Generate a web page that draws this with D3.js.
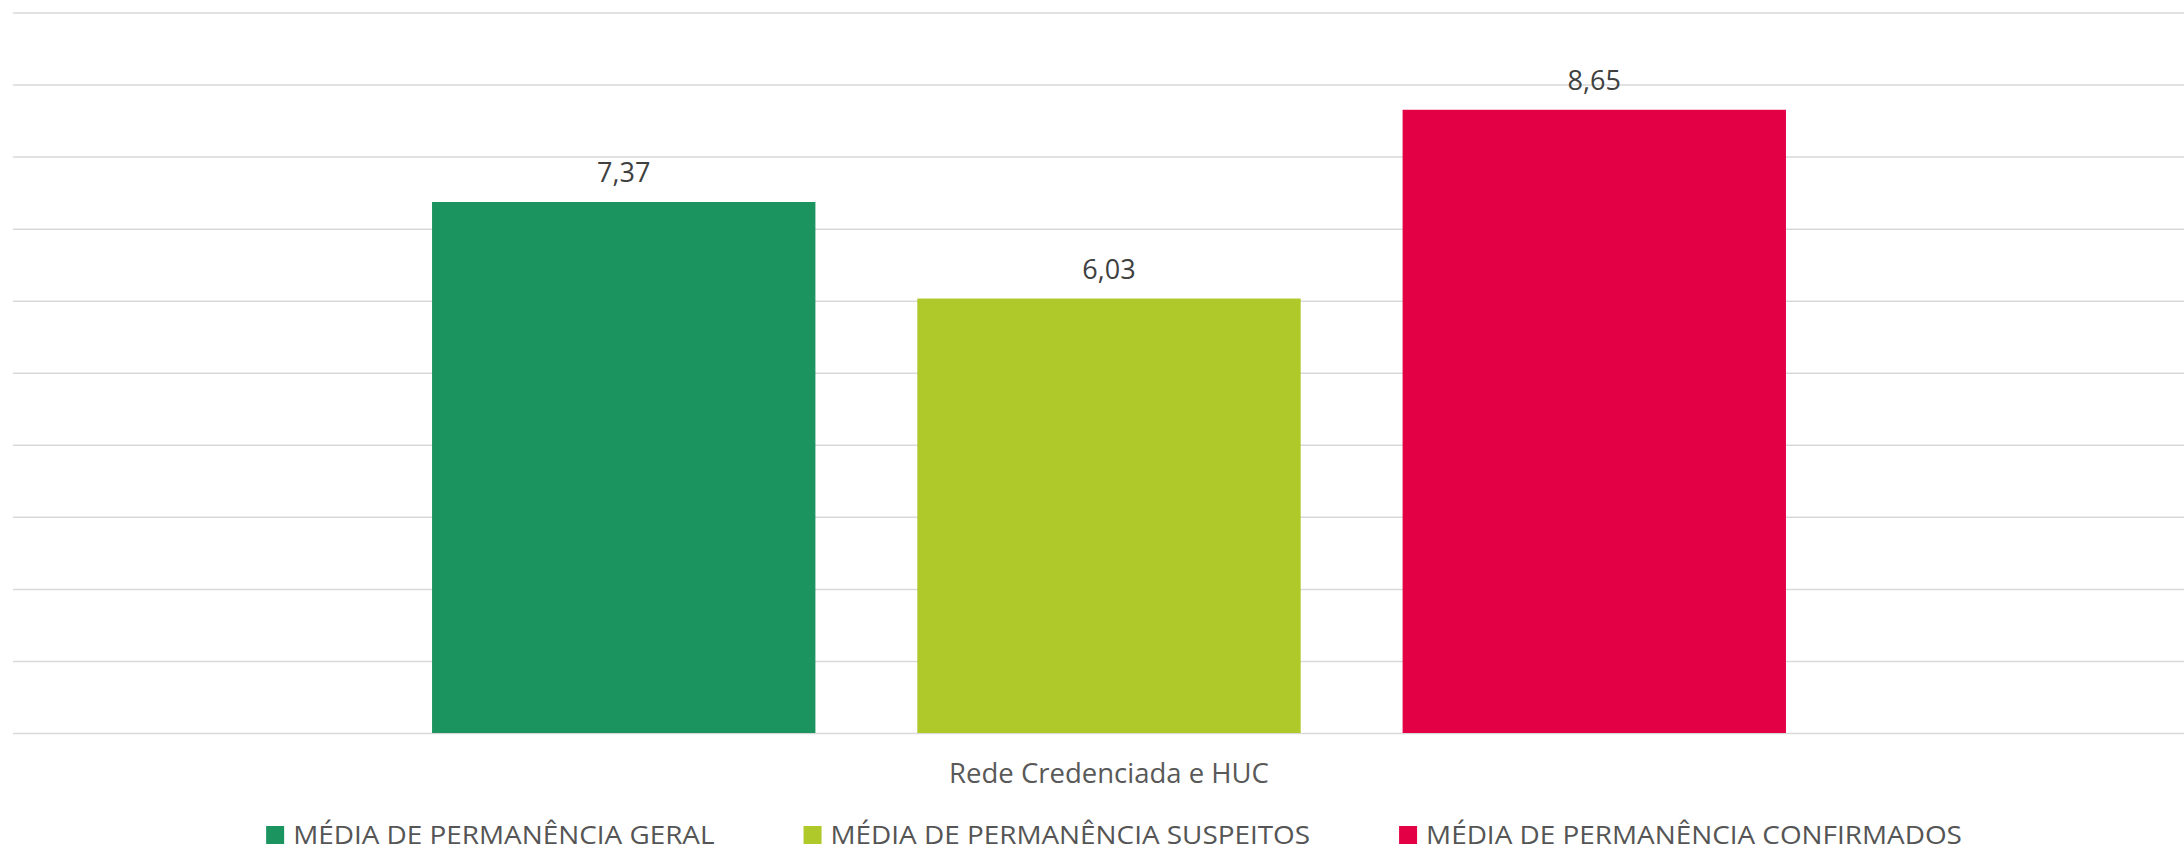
<!DOCTYPE html>
<html>
<head>
<meta charset="utf-8">
<script src="https://cdn.jsdelivr.net/npm/d3@7"></script>
<style>
  html, body { margin: 0; padding: 0; background: #fff; }
  svg { display: block; font-family: "Open Sans", sans-serif; }
</style>
</head>
<body>
<div id="chart"></div>
<script>
// data
const categories = ["Rede Credenciada e HUC"];
const seriesNames = ["MÉDIA DE PERMANÊNCIA GERAL", "MÉDIA DE PERMANÊNCIA SUSPEITOS", "MÉDIA DE PERMANÊNCIA CONFIRMADOS"];
const seriesValues = [7.37, 6.03, 8.65];
const seriesColors = ["#1C9460", "#AFC82A", "#E30045"];
const yTicks = [0, 1, 2, 3, 4, 5, 6, 7, 8, 9, 10];

const width = 2184, height = 852;
const margin = { top: 12.5, right: -21, bottom: 119, left: 13 };

const svg = d3.select("#chart").append("svg")
  .attr("width", width)
  .attr("height", height);

// scales
const x0 = d3.scaleBand()
  .domain(categories)
  .range([margin.left, width - margin.right])
  .paddingInner(0)
  .paddingOuter(0.3095);

const x1 = d3.scaleBand()
  .domain(seriesNames)
  .range([0, x0.bandwidth()])
  .paddingInner(0.21)
  .paddingOuter(0);

const y = d3.scaleLinear()
  .domain([0, 10])
  .range([height - margin.bottom, margin.top]);

const fmt = v => v.toFixed(2).replace(".", ",");

// gridlines
svg.append("g")
  .attr("class", "grid")
  .attr("transform", `translate(${margin.left},0)`)
  .call(d3.axisLeft(y).tickValues(yTicks).tickSize(-(width - margin.left)).tickFormat(""))
  .call(g => g.select(".domain").remove())
  .call(g => g.selectAll(".tick line")
    .attr("stroke", "#d9d9d9")
    .attr("stroke-width", 1.5));

// bars
const group = svg.append("g")
  .selectAll("g")
  .data(categories)
  .join("g")
  .attr("transform", d => `translate(${x0(d)},0)`);

const barData = seriesNames.map((name, i) => ({ name, value: seriesValues[i], color: seriesColors[i] }));

group.selectAll("rect")
  .data(barData)
  .join("rect")
  .attr("x", d => x1(d.name))
  .attr("y", d => y(d.value))
  .attr("width", x1.bandwidth())
  .attr("height", d => y(0) - y(d.value))
  .attr("fill", d => d.color);

// data labels
group.selectAll("text.value")
  .data(barData)
  .join("text")
  .attr("class", "value")
  .attr("x", d => x1(d.name) + x1.bandwidth() / 2)
  .attr("y", d => y(d.value) - 20)
  .attr("text-anchor", "middle")
  .style("font-size", "27px")
  .style("fill", "#404040")
  .text(d => fmt(d.value));

// category axis label
svg.append("g")
  .attr("transform", `translate(0,${y(0)})`)
  .call(d3.axisBottom(x0).tickSize(0).tickPadding(0))
  .call(g => g.select(".domain").remove())
  .call(g => g.selectAll("text")
    .attr("dy", null)
    .attr("y", 50)
    .style("font-family", "'Open Sans', sans-serif")
    .style("font-size", "27.5px")
    .style("fill", "#595959"));

// legend
const legendScaleX = 1.116;
const legendGap = 89;
const legend = svg.append("g").attr("class", "legend");

const items = legend.selectAll("g")
  .data(barData)
  .join("g");

items.append("rect")
  .attr("x", 0)
  .attr("y", -18)
  .attr("width", 18)
  .attr("height", 18)
  .attr("fill", d => d.color);

items.append("text")
  .attr("transform", `translate(27,0) scale(${legendScaleX},1)`)
  .style("font-size", "25px")
  .style("fill", "#555555")
  .text(d => d.name);

// lay out legend items in a row, centered
let offset = 0;
const offsets = [];
items.each(function () {
  const w = 27 + d3.select(this).select("text").node().getComputedTextLength() * legendScaleX;
  offsets.push(offset);
  offset += w + legendGap;
});
const legendWidth = offset - legendGap;
const legendLeft = 1114 - legendWidth / 2;
items.attr("transform", (d, i) => `translate(${legendLeft + offsets[i]},844)`);
</script>
</body>
</html>
